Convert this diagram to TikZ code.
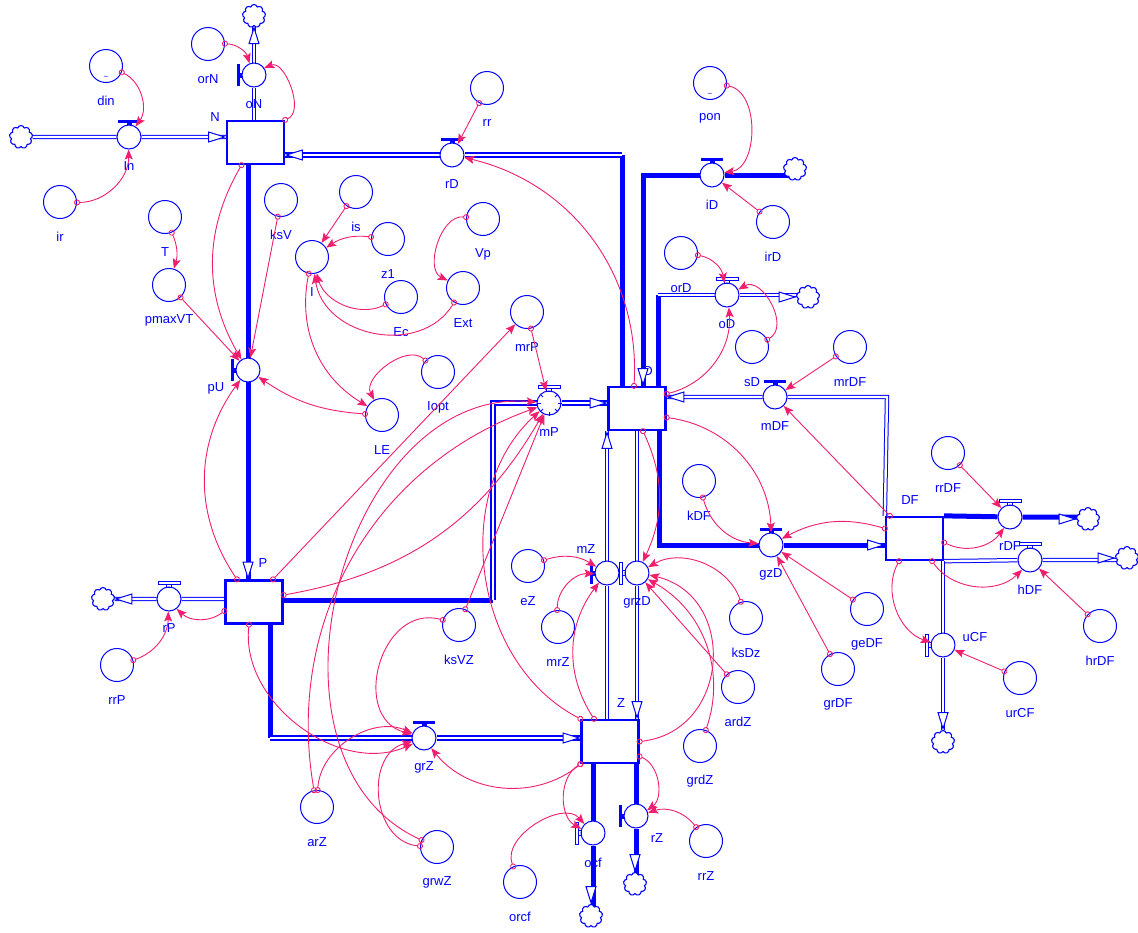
\documentclass[tikz,border=0pt]{standalone}
\usepackage{fontspec}
\setmainfont{Liberation Sans}
\usetikzlibrary{arrows.meta,shapes.geometric,shapes.symbols,backgrounds}

\definecolor{flowblue}{RGB}{0,0,255}
\definecolor{linkpink}{RGB}{240,30,110}

\tikzset{
  lbl/.style={text=flowblue, font=\fontsize{13}{15}\selectfont, inner sep=1pt},
  stock/.style={rectangle, draw=flowblue, line width=2.3pt, fill=white, minimum width=57pt, minimum height=43pt, inner sep=0},
  valve/.style={circle, draw=flowblue, line width=1pt, fill=white, minimum size=24pt, inner sep=0,
    label={[lbl,anchor=center,label distance=17pt]below:#1}},
  aux/.style={circle, draw=flowblue, line width=1pt, minimum size=33pt, inner sep=0,
    label={[lbl,anchor=center,label distance=18pt]below:#1}},
  lookup/.style={label={[text=flowblue,font=\footnotesize,label distance=-10pt]below:\textasciitilde}},
  sink/.style={cloud, cloud puffs=9, aspect=1, draw=flowblue, line width=1.1pt, fill=white,
    minimum width=23pt, minimum height=23pt, inner sep=0},
  pipe/.style={draw=flowblue, double=white, double distance=2.4pt, line width=1pt},
  widepipe/.style={draw=flowblue, double=white, double distance=2pt, line width=1.7pt},
  fatpipe/.style={draw=flowblue, line width=5pt},
  tip/.style={isosceles triangle, isosceles triangle stretches, draw=flowblue, fill=white,
    line width=1pt, minimum width=10pt, minimum height=16pt, inner sep=0},
  link/.style={draw=linkpink, line width=0.9pt, shorten <=-3pt,
    {Circle[open,length=6pt,width=6pt,line width=0.9pt]}-{Stealth[length=10pt,width=8pt,inset=2pt]}},
  vtop/.pic={\fill[flowblue] (-11,14) rectangle (11,17.5); \fill[flowblue] (-2.5,12) rectangle (2.5,14);},
  vtopo/.pic={\draw[flowblue,line width=0.8pt] (-11,14.5) rectangle (11,17.5); \draw[flowblue,line width=0.8pt] (-2.5,12) rectangle (2.5,14.5);},
  vleft/.pic={\fill[flowblue] (-17.5,-11) rectangle (-14,11); \fill[flowblue] (-14,-2.5) rectangle (-12,2.5);},
  vlefto/.pic={\draw[flowblue,line width=0.8pt] (-17.5,-11) rectangle (-14.5,11); \draw[flowblue,line width=0.8pt] (-14.5,-2.5) rectangle (-12,2.5);}
}

\begin{document}
\begin{tikzpicture}[x=1pt,y=1pt]
  \useasboundingbox (0,0) rectangle (1138,-932);

  % stocks
  \node[stock] (N)  at (255.5,-142.5) {};
  \node[stock] (D)  at (637,-408.5) {};
  \node[stock] (P)  at (254,-602) {};
  \node[stock] (Z)  at (610,-741.5) {};
  \node[stock] (DF) at (914.5,-538.5) {};
  \node[lbl] (Nlab)  at (215,-117) {N};
  \node[lbl] (Dlab)  at (648,-371) {D};
  \node[lbl] (Plab)  at (263,-563) {P};
  \node[lbl] (Zlab)  at (621,-703) {Z};
  \node[lbl] (DFlab) at (910,-500) {DF};

  % valves
  \node[valve=In]   (In)   at (129,-137) {};
  \node[valve=oN]   (oN)   at (254,-75) {};
  \node[valve=rD]   (rD)   at (452,-155) {};
  \node[valve=iD]   (iD)   at (712,-175) {};
  \node[valve=oD]   (oD)   at (727,-295) {};
  \node[valve=mDF]  (mDF)  at (775,-397) {};
  \node[valve={}]   (pU)   at (248,-370) {};
  \node[valve=mP]   (mP)   at (549,-403) {};
  \node[valve={}]   (mZ)   at (607,-573) {};
  \node[valve=grzD] (grzD) at (637,-573) {};
  \node[valve=gzD]  (gzD)  at (771,-545) {};
  \node[valve=rDF]  (rDF)  at (1010,-517) {};
  \node[valve=hDF]  (hDF)  at (1030,-560) {};
  \node[valve={}]   (uCF)  at (943,-645) {};
  \node[valve=rP]   (rP)   at (169,-599) {};
  \node[valve=grZ]  (grZ)  at (424,-738) {};
  \node[valve=ocf]  (ocf)  at (593,-833) {};
  \node[valve={}]   (rZ)   at (636,-816) {};
  \node[lbl] (pUlab)  at (216,-388) {pU};
  \node[lbl] (mZlab)  at (586,-549) {mZ};
  \node[lbl] (uCFlab) at (975,-637) {uCF};
  \node[lbl] (rZlab)  at (657,-838) {rZ};

  % clouds
  \node[sink] (Inc)  at (21,-137) {};
  \node[sink] (oNc)  at (254,-16) {};
  \node[sink] (iDc)  at (795,-169) {};
  \node[sink] (oDc)  at (808,-297) {};
  \node[sink] (rDFc) at (1088,-519) {};
  \node[sink] (hDFc) at (1127,-558) {};
  \node[sink] (uCFc) at (943,-742) {};
  \node[sink] (rPc)  at (103,-599) {};
  \node[sink] (ocfc) at (591,-916) {};
  \node[sink] (rZc)  at (635,-884) {};

  % auxiliaries
  \node[aux=din,lookup] (din)  at (106,-66) {};
  \node[aux=ir]     (ir)     at (60,-202) {};
  \node[aux=orN]    (orN)    at (208,-44) {};
  \node[aux=T]      (T)      at (165,-217) {};
  \node[aux=pmaxVT] (pmaxVT) at (169,-285) {};
  \node[aux=ksV]    (ksV)    at (281,-200) {};
  \node[aux=is]     (is)     at (356,-192) {};
  \node[aux=z1]     (z1)     at (388,-239) {};
  \node[aux=Ec]     (Ec)     at (401,-297) {};
  \node[aux=I]      (I)      at (312,-257) {};
  \node[aux=Vp]     (Vp)     at (483,-219) {};
  \node[aux=Ext]    (Ext)    at (463,-288) {};
  \node[aux=LE]     (LE)     at (382,-415) {};
  \node[aux=Iopt]   (Iopt)   at (438,-372) {};
  \node[aux=mrP]    (mrP)    at (527,-312) {};
  \node[aux=rr]     (rr)     at (487,-88) {};
  \node[aux=pon,lookup] (pon) at (710,-83) {};
  \node[aux=irD]    (irD)    at (773,-222) {};
  \node[aux=orD]    (orD)    at (681,-253) {};
  \node[aux=sD]     (sD)     at (752,-347) {};
  \node[aux=mrDF]   (mrDF)   at (850,-347) {};
  \node[aux=kDF]    (kDF)    at (699,-481) {};
  \node[aux=geDF]   (geDF)   at (867,-609) {};
  \node[aux=grDF]   (grDF)   at (838,-669) {};
  \node[aux=rrDF]   (rrDF)   at (948,-453) {};
  \node[aux=hrDF]   (hrDF)   at (1100,-626) {};
  \node[aux=urCF]   (urCF)   at (1020,-678) {};
  \node[aux=ksDz]   (ksDz)   at (746,-618) {};
  \node[aux=ardZ]   (ardZ)   at (738,-687) {};
  \node[aux=grdZ]   (grdZ)   at (700,-746) {};
  \node[aux=eZ]     (eZ)     at (528,-566) {};
  \node[aux=mrZ]    (mrZ)    at (558,-627) {};
  \node[aux=ksVZ]   (ksVZ)   at (459,-625) {};
  \node[aux=arZ]    (arZ)    at (317,-807) {};
  \node[aux=grwZ]   (grwZ)   at (437,-847) {};
  \node[aux=orcf]   (orcf)   at (520,-882) {};
  \node[aux=rrZ]    (rrZ)    at (706,-841) {};
  \node[aux=rrP]    (rrP)    at (117,-665) {};

  % bends of the pipes
  \coordinate (rDk)  at (622,-155);
  \coordinate (iDk)  at (643,-175);
  \coordinate (oDk)  at (658,-295);
  \coordinate (mDFk) at (887,-397);
  \coordinate (mPk1) at (493,-600);
  \coordinate (mPk2) at (493,-403);
  \coordinate (grZk) at (270,-738);
  \coordinate (gzDk) at (659,-545);

  \begin{scope}[on background layer]
    \draw[pipe] (Inc) -- (In) -- (N.west |- In);
    \draw[pipe] (N.north -| oN) -- (oN) -- (oNc);
    \draw[fatpipe] (D.north -| rDk) -- (rDk);
    \draw[widepipe] (rDk) -- (rD) -- (N.east |- rD);
    \draw[fatpipe] (iD -| iDc) -- (iD) -- (iDk) -- (D.north -| iDk);
    \draw[fatpipe] (D.north -| oDk) -- (oDk);
    \draw[pipe] (oDk) -- (oD) -- (oD -| oDc);
    \draw[pipe] (DF.north west) -- (mDFk) -- (mDF) -- (D.east |- mDF);
    \draw[fatpipe] (P.east |- mPk1) -- (mPk1);
    \draw[widepipe] (mPk1) -- (mPk2) -- (mP) -- (D.west |- mP);
    \draw[fatpipe] (N.south -| pU) -- (P.north -| pU);
    \draw[fatpipe] (P.south -| grZk) -- (grZk);
    \draw[widepipe] (grZk) -- (grZ) -- (Z.west |- grZ);
    \draw[pipe] (Z.north -| mZ) -- (mZ) -- (D.south -| mZ);
    \draw[pipe] (D.south -| grzD) -- (grzD) -- (Z.north -| grzD);
    \draw[fatpipe] (D.south -| gzDk) -- (gzDk) -- (gzD) -- (DF.west |- gzD);
    \draw[pipe] (P.west |- rP) -- (rP) -- (rPc);
    \draw[fatpipe] (DF.north east) -- (rDF) -- (rDF -| rDFc);
    \draw[pipe] (DF.south east) -- (hDF) -- (hDF -| hDFc);
    \draw[pipe] (DF.south -| uCF) -- (uCF) -- (uCFc);
    \draw[fatpipe] (Z.south -| ocf) -- (ocf) -- (ocf |- ocfc);
    \draw[fatpipe] (Z.south -| rZ) -- (rZ) -- (rZ |- rZc);
  \end{scope}

  % pipe tips
  \node[tip, anchor=apex]             (In-tip)   at (N.west |- In) {};
  \node[tip, rotate=90, anchor=apex]  (oN-tip)   at (oNc.south) {};
  \node[tip, rotate=180, anchor=apex] (rD-tip)   at (N.east |- rD) {};
  \node[tip, rotate=-90, anchor=apex] (iD-tip)   at (D.north -| iDk) {};
  \node[tip, anchor=apex]             (oD-tip)   at (oDc.west) {};
  \node[tip, rotate=180, anchor=apex] (mDF-tip)  at (D.east |- mDF) {};
  \node[tip, anchor=apex]             (mP-tip)   at (D.west |- mP) {};
  \node[tip, rotate=-90, anchor=apex] (pU-tip)   at (P.north -| pU) {};
  \node[tip, anchor=apex]             (grZ-tip)  at (Z.west |- grZ) {};
  \node[tip, rotate=90, anchor=apex]  (mZ-tip)   at (D.south -| mZ) {};
  \node[tip, rotate=-90, anchor=apex] (grzD-tip) at (Z.north -| grzD) {};
  \node[tip, anchor=apex]             (gzD-tip)  at (DF.west |- gzD) {};
  \node[tip, rotate=180, anchor=apex] (rP-tip)   at (rPc.east) {};
  \node[tip, anchor=apex]             (rDF-tip)  at (rDFc.west) {};
  \node[tip, anchor=apex]             (hDF-tip)  at (hDFc.west) {};
  \node[tip, rotate=-90, anchor=apex] (uCF-tip)  at (uCFc.north) {};
  \node[tip, rotate=-90, anchor=apex] (ocf-tip)  at (ocfc.north) {};
  \node[tip, rotate=-90, anchor=apex] (rZ-tip)   at (rZc.north) {};

  % valve handles
  \pic at (In) {vtop};
  \pic at (oN) {vleft};
  \pic at (rD) {vtop};
  \pic at (iD) {vtop};
  \pic at (oD) {vtopo};
  \pic at (mDF) {vtop};
  \pic at (pU) {vleft};
  \pic at (mP) {vtopo};
  \pic at (mZ) {vleft};
  \pic at (grzD) {vlefto};
  \pic at (gzD) {vtop};
  \pic at (rDF) {vtopo};
  \pic at (hDF) {vtopo};
  \pic at (uCF) {vlefto};
  \pic at (rP) {vtopo};
  \pic at (grZ) {vtop};
  \pic at (ocf) {vlefto};
  \pic at (rZ) {vleft};
  \foreach \a in {0,45,135,180,225,270,315}
    \draw[flowblue, line width=1pt] (mP.\a) -- ([shift={(\a+180:4)}]mP.\a);

  % links
  \draw[link] (din) to[bend left=50] (In);
  \draw[link] (ir) to[bend right=45] (In);
  \draw[link] (orN) to[bend left=35] (oN);
  \draw[link] (N.north east) to[bend right=90] (oN);
  \draw[link] (T) to[bend left=20] (pmaxVT);
  \draw[link] (pmaxVT) -- (pU);
  \draw[link] (ksV) -- (pU);
  \draw[link] ([xshift=-14pt]N.south) to[bend right=30] (pU);
  \draw[link] (LE) to[bend left=15] (pU);
  \draw[link] ([xshift=-17pt]P.north) to[bend left=35] (pU);
  \draw[link] (is) -- (I);
  \draw[link] (z1) to[bend right=20] (I);
  \draw[link] (Ec) to[bend left=50] (I);
  \draw[link] (Ext) to[bend left=70, looseness=1.15] (I);
  \draw[link] (Vp) to[bend right=80] (Ext);
  \draw[link] (I) to[bend right=35] (LE);
  \draw[link] (Iopt) to[bend right=80] (LE);
  \draw[link] (rr) -- (rD);
  \draw[link] ([xshift=-3pt]D.north) to[bend right=40] (rD);
  \draw[link] (mrP) -- (mP);
  \draw[link] ([xshift=19pt]P.north) -- (mrP);
  \draw[link] ([yshift=7pt]P.east) to[bend right=25] (mP);
  \draw[link] (ksVZ) -- (mP);
  \draw[link] (arZ) to[bend left=40] (mP);
  \draw[link] (grwZ) to[bend left=80, looseness=1.1] (mP);
  \draw[link] (Z.north west) to[bend left=55] (mP);
  \draw[link] (ksVZ) to[bend right=90, looseness=1.4] (grZ);
  \draw[link] (arZ) to[bend left=55] (grZ);
  \draw[link] (grwZ) to[bend left=80, looseness=1.2] (grZ);
  \draw[link] ([xshift=-5pt]P.south) to[bend right=60] (grZ);
  \draw[link] (Z.south west) to[bend left=45] (grZ);
  \draw[link] (Z.south west) to[bend right=60] (ocf);
  \draw[link] (orcf) to[bend left=80] (ocf);
  \draw[link] ([yshift=-15pt]Z.east) to[bend left=60] (rZ);
  \draw[link] (rrZ) to[bend right=35] (rZ);
  \draw[link] (eZ) to[bend left=25] (mZ);
  \draw[link] (mrZ) to[bend left=45] (mZ);
  \draw[link] ([xshift=-16pt]Z.north) to[bend left=35] (mZ);
  \draw[link] ([xshift=6pt]D.south) to[bend left=25] (grzD);
  \draw[link] (ksDz) to[bend right=50] (grzD);
  \draw[link] (ardZ) -- (grzD);
  \draw[link] (grdZ) to[bend right=40] (grzD);
  \draw[link] (Z.east) to[bend right=80, looseness=1.4] (grzD);
  \draw[link] ([yshift=-9pt]D.east) to[bend left=40] (gzD);
  \draw[link] (kDF) to[bend right=35] (gzD);
  \draw[link] ([yshift=10pt]DF.west) to[bend right=22] (gzD);
  \draw[link] (geDF) -- (gzD);
  \draw[link] (grDF) -- (gzD);
  \draw[link] ([yshift=-8pt]D.north east) to[bend right=40] (oD);
  \draw[link] (orD) to[bend left=35] (oD);
  \draw[link] (sD) to[bend right=90, looseness=1.2] (oD);
  \draw[link] (pon) to[bend left=80] (iD);
  \draw[link] (irD) -- (iD);
  \draw[link] (mrDF) -- (mDF);
  \draw[link] ([xshift=5pt]DF.north west) -- (mDF);
  \draw[link] (rrDF) -- (rDF);
  \draw[link] ([yshift=-4pt]DF.east) to[bend right=40] (rDF);
  \draw[link] ([xshift=-12pt]DF.south east) to[bend right=50] (hDF);
  \draw[link] (hrDF) -- (hDF);
  \draw[link] ([xshift=-15.5pt]DF.south) to[bend right=50] (uCF);
  \draw[link] (urCF) -- (uCF);
  \draw[link] ([yshift=-9pt]P.west) to[bend left=40] (rP);
  \draw[link] (rrP) to[bend right=35] (rP);
\end{tikzpicture}
\end{document}
